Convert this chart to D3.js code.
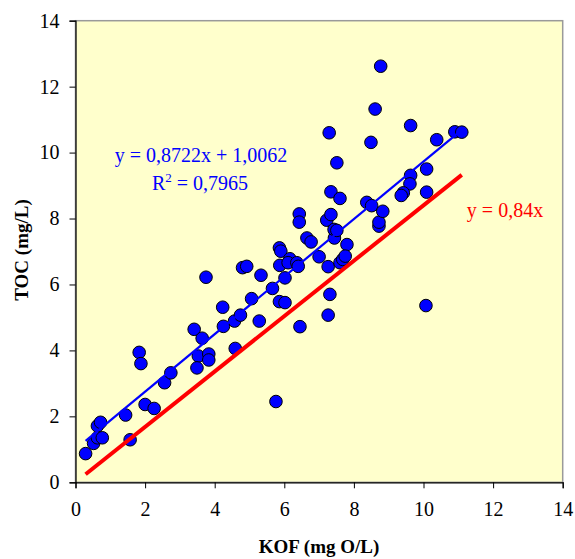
<!DOCTYPE html>
<html>
<head>
<meta charset="utf-8">
<script src="https://cdn.jsdelivr.net/npm/d3@7"></script>
<style>
  body { margin: 0; background: #fff; }
  svg text { font-family: "Liberation Serif", "Times New Roman", serif; }
</style>
</head>
<body>
<svg id="chart" width="575" height="559"></svg>
<script>
// KOF (mg O/L) vs TOC (mg/L)
const kof = [0.29, 0.52, 0.63, 0.72, 0.63, 0.77, 1.44, 1.57, 1.83, 1.88,
  2.00, 2.26, 2.56, 2.74, 3.41, 3.64, 3.53, 3.49, 3.83, 3.83,
  4.25, 4.57, 4.59, 3.75, 4.23, 4.74, 5.06, 5.28, 4.80, 4.92,
  5.33, 5.66, 5.86, 6.02, 6.02, 5.87, 5.86, 5.90, 6.16, 6.11,
  6.36, 6.40, 6.45, 5.76, 6.65, 6.77, 7.00, 7.26, 7.31, 7.26,
  7.46, 7.44, 7.80, 7.60, 7.68, 7.75, 8.72, 8.72, 7.29, 8.49,
  7.51, 7.34, 7.60, 8.37, 8.51, 8.83, 9.63, 9.61, 9.42, 9.36,
  10.09, 10.09, 10.38, 6.43, 6.43, 7.22, 7.34, 7.43, 7.51, 8.77,
  8.61, 9.63, 10.90, 11.10, 10.07];
const toc = [0.87, 1.18, 1.71, 1.82, 1.35, 1.35, 2.04, 1.29, 3.94, 3.60,
  2.36, 2.24, 3.02, 3.32, 4.64, 4.37, 3.83, 3.47, 3.89, 3.71,
  4.73, 4.89, 4.06, 6.22, 5.31, 5.07, 5.57, 4.89, 6.51, 6.55,
  6.28, 5.88, 5.48, 5.45, 6.20, 6.58, 7.11, 7.01, 6.78, 6.66,
  6.66, 6.55, 4.72, 2.45, 7.41, 7.29, 6.84, 6.54, 5.70, 5.07,
  7.62, 7.41, 7.21, 6.66, 6.76, 6.86, 7.77, 7.89, 10.60, 10.31,
  9.69, 8.81, 8.61, 8.49, 8.39, 8.22, 9.31, 9.05, 8.78, 8.70,
  9.50, 8.80, 10.39, 8.14, 7.89, 7.95, 8.12, 7.67, 7.64, 12.62,
  11.32, 10.82, 10.63, 10.62, 5.36];

const xTicks = [0, 2, 4, 6, 8, 10, 12, 14];
const yTicks = [0, 2, 4, 6, 8, 10, 12, 14];

const fit = { slope: 0.8722, intercept: 1.0062 };
const ref = { slope: 0.84 };

const fitLabel = "y = 0,8722x + 1,0062";
const r2Value = "0,7965";
const refLabel = "y = 0,84x";

const svg = d3.select('#chart');
const plot = { left: 75.5, top: 20.7, right: 562.7, bottom: 482.3 };

const x = d3.scaleLinear().domain([0, 14]).range([plot.left, plot.right]);
const y = d3.scaleLinear().domain([0, 14]).range([plot.bottom, plot.top]);

// plot area
svg.append('rect')
  .attr('x', plot.left).attr('y', plot.top)
  .attr('width', plot.right - plot.left).attr('height', plot.bottom - plot.top)
  .attr('fill', '#ffffcc').attr('stroke', '#9a9a9a').attr('stroke-width', 1.5);

// axes
const xAxis = svg.append('g')
  .attr('transform', `translate(0,${plot.bottom})`)
  .call(d3.axisBottom(x).tickValues(xTicks).tickSize(6).tickPadding(14).tickFormat(d3.format('d')));
const yAxis = svg.append('g')
  .attr('transform', `translate(${plot.left},0)`)
  .call(d3.axisLeft(y).tickValues(yTicks).tickSize(6).tickPadding(10).tickFormat(d3.format('d')));

[xAxis, yAxis].forEach(g => {
  g.select('.domain').attr('stroke', '#000').attr('stroke-width', 1.2);
  g.selectAll('.tick line').attr('stroke', '#000');
  g.selectAll('.tick text')
    .attr('font-family', '"Liberation Serif", serif')
    .attr('font-size', 20).attr('fill', '#000');
});

const pts = kof.map((d, i) => ({ x: d, y: toc[i] }));
const [xMin, xMax] = d3.extent(kof);

// points
svg.append('g').selectAll('circle')
  .data(pts)
  .enter()
  .append('circle')
  .attr('cx', d => x(d.x))
  .attr('cy', d => y(d.y))
  .attr('r', 6.3)
  .attr('fill', '#0000ff')
  .attr('stroke', '#000')
  .attr('stroke-width', 1);

// reference line y = 0,84x
svg.append('line')
  .attr('x1', x(xMin)).attr('y1', y(ref.slope * xMin))
  .attr('x2', x(xMax)).attr('y2', y(ref.slope * xMax))
  .attr('stroke', '#ff0000').attr('stroke-width', 4);

// linear trend
svg.append('line')
  .attr('x1', x(xMin)).attr('y1', y(fit.slope * xMin + fit.intercept))
  .attr('x2', x(xMax)).attr('y2', y(fit.slope * xMax + fit.intercept))
  .attr('stroke', '#0000ff').attr('stroke-width', 2.2);

// equations
svg.append('text')
  .attr('x', 201).attr('y', 161.5)
  .attr('text-anchor', 'middle')
  .attr('font-size', 20).attr('fill', '#0000ff')
  .text(fitLabel);

const r2 = svg.append('text')
  .attr('x', 200).attr('y', 190)
  .attr('text-anchor', 'middle')
  .attr('font-size', 20).attr('fill', '#0000ff');
r2.append('tspan').text('R');
r2.append('tspan').attr('dy', -8).attr('font-size', 13).text('2');
r2.append('tspan').attr('dy', 8).text(' = ' + r2Value);

svg.append('text')
  .attr('x', 505).attr('y', 216.5)
  .attr('text-anchor', 'middle')
  .attr('font-size', 20).attr('fill', '#ff0000')
  .text(refLabel);

// axis titles
svg.append('text')
  .attr('x', 319).attr('y', 553)
  .attr('text-anchor', 'middle')
  .attr('font-size', 19).attr('font-weight', 'bold')
  .text('KOF (mg O/L)');

svg.append('text')
  .attr('transform', 'translate(28,250) rotate(-90)')
  .attr('text-anchor', 'middle')
  .attr('font-size', 19).attr('font-weight', 'bold')
  .text('TOC (mg/L)');
</script>
</body>
</html>
